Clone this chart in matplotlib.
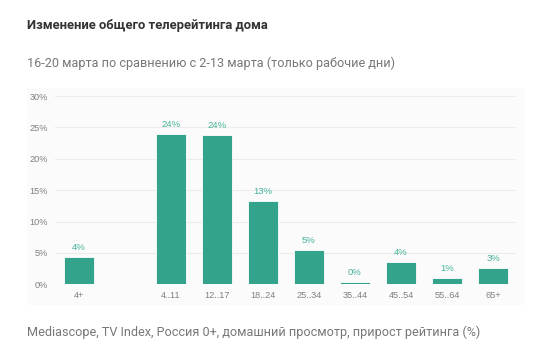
import matplotlib
matplotlib.use("Agg")
import matplotlib.pyplot as plt
from matplotlib.patches import Rectangle

plt.rcParams['font.family'] = ['Roboto', 'DejaVu Sans']

categories = ["4+", "", "4..11", "12..17", "18..24", "25..34", "35..44", "45..54", "55..64", "65+"]
values = [4.3, None, 23.9, 23.8, 13.3, 5.4, 0.3, 3.6, 1.05, 2.55]
value_labels = ["4%", "", "24%", "24%", "13%", "5%", "0%", "4%", "1%", "3%"]
yticks = [0, 5, 10, 15, 20, 25, 30]
ytick_labels = ["0%", "5%", "10%", "15%", "20%", "25%", "30%"]

title = "Изменение общего телерейтинга дома"
subtitle = "16-20 марта по сравнению с 2-13 марта (только рабочие дни)"
footer = "Mediascope, TV Index, Россия 0+, домашний просмотр, прирост рейтинга (%)"

W, H = 543, 363
fig = plt.figure(figsize=(W / 100, H / 100), dpi=100)
fig.patch.set_facecolor("white")

# faint card behind the chart
card = Rectangle((27 / W, 1 - 305 / H), (525 - 27) / W, (305 - 88) / H,
                 transform=fig.transFigure, facecolor="#fbfbfb",
                 edgecolor="none", zorder=-5)
fig.patches.append(card)

fig.text(27 / W, 1 - 25 / H, title, fontsize=9.4, fontweight="bold", color="#333333",
         va="center", ha="left")
fig.text(27 / W, 1 - 63 / H, subtitle, fontsize=9.1, color="#777777", va="center", ha="left")
fig.text(27 / W, 1 - 332 / H, footer, fontsize=9.1, color="#777777", va="center", ha="left")

ax = fig.add_axes([55 / W, 1 - 284.3 / H, (516 - 55) / W, (284.3 - 96) / H])
ax.set_zorder(2)
ax.set_facecolor("none")

small_font = ['Liberation Sans', 'DejaVu Sans']
color = "#33a38b"
xs = list(range(len(categories)))
for x, v, lab in zip(xs, values, value_labels):
    if v is None:
        continue
    ax.bar(x, v, width=0.66, color=color, edgecolor="white", linewidth=0.6, zorder=3)
    ax.text(x, v + 0.8, lab, ha="center", va="bottom", fontsize=6.8, color="#45b39a",
            family=small_font, zorder=4)

ax.set_xlim(-0.52, 9.5)
ax.set_ylim(0, 30)
ax.set_yticks(yticks)
ax.set_yticklabels(ytick_labels, family=small_font)
ax.set_xticks(xs)
ax.set_xticklabels(categories, family=small_font)
ax.tick_params(axis="both", length=0, labelsize=6.6, labelcolor="#808080")
ax.tick_params(axis="y", pad=5)
ax.tick_params(axis="x", pad=5)
ax.grid(axis="y", color="#ebebeb", linewidth=0.8, zorder=0)
ax.axhline(0, color="#dddddd", linewidth=0.8, zorder=2)
for s in ax.spines.values():
    s.set_visible(False)

fig.savefig("out.png", dpi=100, facecolor="white")
